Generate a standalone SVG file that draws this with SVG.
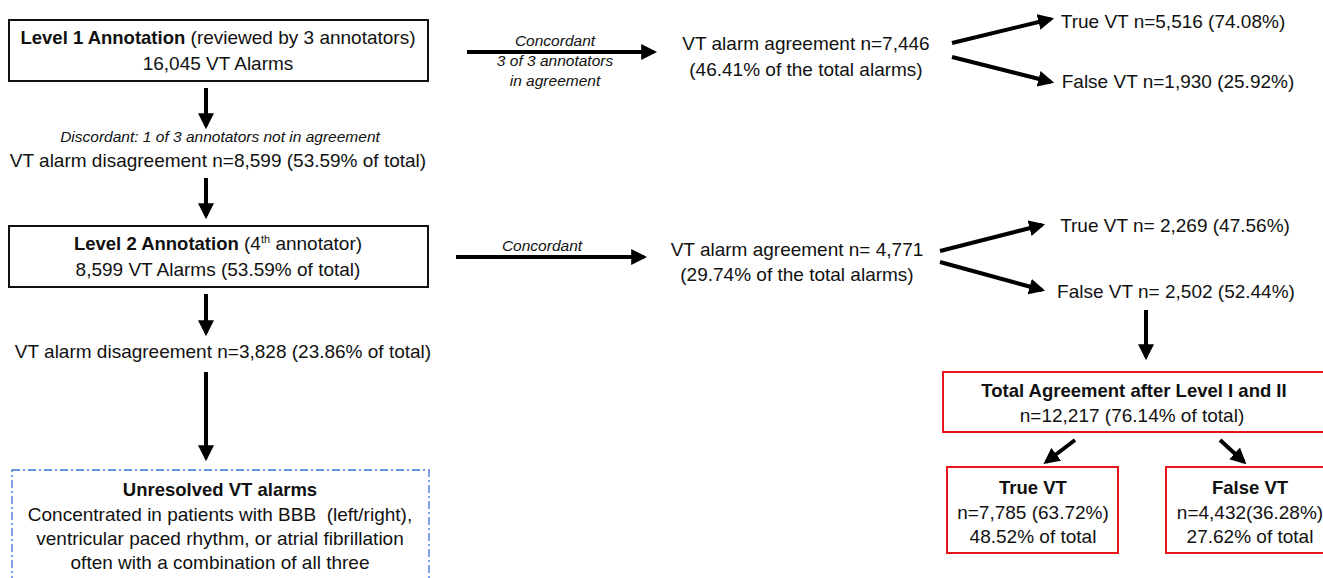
<svg xmlns="http://www.w3.org/2000/svg" width="1323" height="578" viewBox="0 0 1323 578">
<style>
text{font-family:"Liberation Sans",Arial,sans-serif;font-size:19px;fill:#111;text-anchor:middle}
.b{font-weight:bold;font-size:18.5px}
.i{font-style:italic;font-size:15.5px}
.box{fill:#fff;stroke:#111;stroke-width:2}
.red{fill:#fff;stroke:#e8141b;stroke-width:2}
.blue{fill:#fff;stroke:#3a6fd1;stroke-width:1.3;stroke-dasharray:8 3 2 3}
.c{stroke:#000;stroke-width:4;fill:none;marker-end:url(#ah)}
</style>
<defs>
<marker id="ah" markerWidth="4" markerHeight="4" refX="3.2" refY="2" orient="auto" markerUnits="strokeWidth">
<path d="M0,0 L4,2 L0,4 Z" fill="#000"/>
</marker>
</defs>
<g id="connectors">
<line class="c" x1="206" y1="88" x2="206" y2="126"/>
<line class="c" x1="206" y1="178" x2="206" y2="216"/>
<line class="c" x1="206" y1="294" x2="206" y2="333"/>
<line class="c" x1="206" y1="372" x2="206" y2="458"/>
<line class="c" x1="467" y1="52" x2="654" y2="52"/>
<line class="c" x1="456" y1="257" x2="644" y2="257"/>
<line class="c" x1="952" y1="43" x2="1051" y2="19"/>
<line class="c" x1="952" y1="57" x2="1051" y2="82"/>
<line class="c" x1="940" y1="251" x2="1042" y2="225"/>
<line class="c" x1="940" y1="262" x2="1042" y2="290"/>
<line class="c" x1="1146" y1="310" x2="1146" y2="357"/>
<line class="c" x1="1075" y1="440" x2="1046" y2="462"/>
<line class="c" x1="1220" y1="440" x2="1244" y2="462"/>
<text class="i" x="555" y="46">Concordant</text>
<text class="i" x="555" y="66">3 of 3 annotators</text>
<text class="i" x="555" y="86">in agreement</text>
<text class="i" x="542" y="251">Concordant</text>
</g>
<g id="level1">
<rect class="box" x="9" y="20" width="419" height="61"/>
<text x="218" y="44"><tspan class="b">Level 1 Annotation</tspan> (reviewed by 3 annotators)</text>
<text x="218" y="70">16,045 VT Alarms</text>
</g>
<g id="disagree1">
<text class="i" x="220" y="142">Discordant: 1 of 3 annotators not in agreement</text>
<text x="218" y="167">VT alarm disagreement n=8,599 (53.59% of total)</text>
</g>
<g id="level2">
<rect class="box" x="9" y="226" width="419" height="61"/>
<text x="218" y="250"><tspan class="b">Level 2 Annotation</tspan> (4<tspan font-size="11" dy="-7">th</tspan><tspan dy="7"> annotator)</tspan></text>
<text x="218" y="276">8,599 VT Alarms (53.59% of total)</text>
</g>
<g id="disagree2">
<text x="223" y="358">VT alarm disagreement n=3,828 (23.86% of total)</text>
</g>
<g id="unresolved">
<rect class="blue" x="12" y="470" width="417" height="120"/>
<text class="b" x="220" y="496">Unresolved VT alarms</text>
<text x="220" y="521" xml:space="preserve">Concentrated in patients with BBB  (left/right),</text>
<text x="220" y="545">ventricular paced rhythm, or atrial fibrillation</text>
<text x="220" y="569">often with a combination of all three</text>
</g>
<g id="agree1">
<text x="806" y="50">VT alarm agreement n=7,446</text>
<text x="806" y="76">(46.41% of the total alarms)</text>
</g>
<g id="true1"><text x="1173" y="28">True VT n=5,516 (74.08%)</text></g>
<g id="false1"><text x="1178" y="88">False VT n=1,930 (25.92%)</text></g>
<g id="agree2">
<text x="797" y="256">VT alarm agreement n= 4,771</text>
<text x="797" y="281">(29.74% of the total alarms)</text>
</g>
<g id="true2"><text x="1175" y="232">True VT n= 2,269 (47.56%)</text></g>
<g id="false2"><text x="1176" y="298">False VT n= 2,502 (52.44%)</text></g>
<g id="total">
<rect class="red" x="943" y="372" width="390" height="60"/>
<text class="b" x="1134" y="397">Total Agreement after Level I and II</text>
<text x="1132" y="422">n=12,217 (76.14% of total)</text>
</g>
<g id="trueTotal">
<rect class="red" x="947" y="467" width="171" height="86"/>
<text class="b" x="1033" y="494">True VT</text>
<text x="1033" y="519">n=7,785 (63.72%)</text>
<text x="1033" y="543">48.52% of total</text>
</g>
<g id="falseTotal">
<rect class="red" x="1166" y="467" width="170" height="86"/>
<text class="b" x="1250" y="494">False VT</text>
<text x="1250" y="519">n=4,432(36.28%)</text>
<text x="1250" y="543">27.62% of total</text>
</g>
</svg>
